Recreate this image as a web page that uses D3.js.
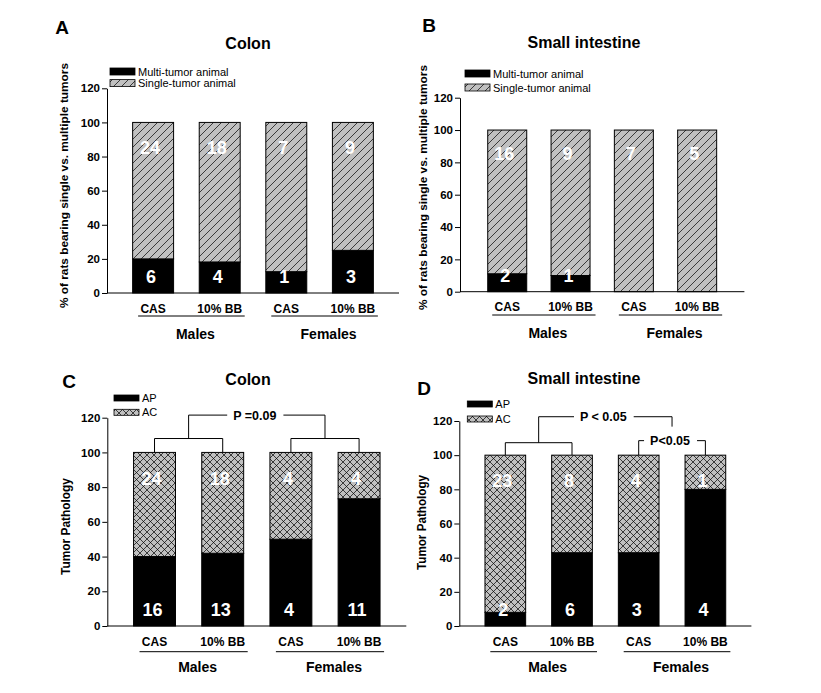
<!DOCTYPE html>
<html><head><meta charset="utf-8">
<script src="https://cdn.jsdelivr.net/npm/d3@7"></script>
<style>body{margin:0;background:#fff} text{font-family:Arial,"Liberation Sans",sans-serif}</style>
</head><body><svg id="chart" width="821" height="693"></svg>
<script>
// ---------- data ----------
const groups = ["CAS","10% BB","CAS","10% BB"];
const sexes = ["Males","Females"];
const yTicks = [0,20,40,60,80,100,120];

const colonMultiPct = [20, 18.2, 12.5, 25];
const colonSinglePct = [80, 81.8, 87.5, 75];
const colonMultiN = ["6","4","1","3"];
const colonSingleN = ["24","18","7","9"];

const smallMultiPct = [11.1, 10, 0, 0];
const smallSinglePct = [88.9, 90, 100, 100];
const smallMultiN = ["2","1","",""];
const smallSingleN = ["16","9","7","5"];

const colonAPPct = [40, 41.9, 50, 73.3];
const colonACPct = [60, 58.1, 50, 26.7];
const colonAPN = ["16","13","4","11"];
const colonACN = ["24","18","4","4"];

const smallAPPct = [8, 42.9, 42.9, 80];
const smallACPct = [92, 57.1, 57.1, 20];
const smallAPN = ["2","6","3","4"];
const smallACN = ["23","8","4","1"];

const legendMulti = ["Multi-tumor animal","Single-tumor animal"];
const legendPath = ["AP","AC"];
const yTitleMulti = "% of rats bearing single vs. multiple tumors";
const yTitlePath = "Tumor Pathology";

// brackets: band index positions (fractional allowed), leg starts, level, label
const colonBrackets = [
  {i1:0, i2:1, lo1:100, lo2:100, level:108, label:null},
  {i1:2, i2:3, lo1:100, lo2:100, level:108, label:null},
  {i1:0.5, i2:2.5, lo1:108, lo2:108, level:121.5, label:"P =0.09"}
];
const smallBrackets = [
  {i1:0, i2:1, lo1:100, lo2:100, level:107.3, label:null},
  {i1:2, i2:3, lo1:100, lo2:100, level:108.5, label:"P<0.05"},
  {i1:0.5, i2:2.5, lo1:107.3, lo2:116.7, level:122.5, label:"P < 0.05"}
];

// ---------- drawing ----------
const svg = d3.select("#chart");
const GREY = "#c0c0c0";
const defs = svg.append("defs");
const hatch = defs.append("pattern").attr("id","hatch").attr("patternUnits","userSpaceOnUse")
  .attr("width",8).attr("height",8);
hatch.append("rect").attr("width",8).attr("height",8).attr("fill",GREY);
hatch.append("path").attr("d","M0,8 L8,0 M-2,2 L2,-2 M6,10 L10,6").attr("stroke","#000").attr("stroke-width",0.7);
const cross = defs.append("pattern").attr("id","cross").attr("patternUnits","userSpaceOnUse")
  .attr("width",7).attr("height",7);
cross.append("rect").attr("width",7).attr("height",7).attr("fill",GREY);
cross.append("path").attr("d","M0,7 L7,0 M-2,2 L2,-2 M5,9 L9,5 M0,0 L7,7 M-2,5 L2,9 M5,-2 L9,2")
  .attr("stroke","#000").attr("stroke-width",0.7);

function drawPanel(p){
  const g = svg.append("g");
  const x = d3.scaleBand().domain(d3.range(groups.length)).range([p.x0,p.x1])
    .paddingInner(p.pi).paddingOuter(p.po);
  const y = d3.scaleLinear().domain([0,120]).range([p.yBot,p.yTop]);
  const bw = x.bandwidth(), step = x.step();
  const cx = i => x(0) + bw/2 + i*step;

  // bars
  groups.forEach((gname,i)=>{
    g.append("rect").attr("x",x(i)).attr("width",bw)
      .attr("y",y(p.low[i])).attr("height",y(0)-y(p.low[i]))
      .attr("fill","#000").attr("stroke","#000").attr("stroke-width",1);
    g.append("rect").attr("x",x(i)).attr("width",bw)
      .attr("y",y(p.low[i]+p.high[i])).attr("height",y(p.low[i])-y(p.low[i]+p.high[i]))
      .attr("fill",`url(#${p.pattern})`).attr("stroke","#000").attr("stroke-width",1);
    g.append("text").attr("x",cx(i)-3).attr("y",y(81.5)).attr("text-anchor","middle")
      .attr("fill","#fff").attr("font-weight","bold").attr("font-size",18).text(p.highN[i]);
    g.append("text").attr("x",cx(i)-2).attr("y",y(6)).attr("text-anchor","middle")
      .attr("fill","#fff").attr("font-weight","bold").attr("font-size",18).text(p.lowN[i]);
  });

  // axes
  const ya = d3.axisLeft(y).tickValues(yTicks).tickSize(5).tickSizeOuter(0).tickPadding(2);
  const yg = g.append("g").attr("transform",`translate(${p.x0},0)`).call(ya);
  yg.select(".domain").attr("stroke","#000");
  yg.selectAll("text").attr("font-weight","bold").attr("font-size",11.5)
    .attr("font-family","Arial,'Liberation Sans',sans-serif").attr("fill","#000");
  g.append("line").attr("x1",p.x0).attr("x2",p.x1).attr("y1",p.yBot).attr("y2",p.yBot)
    .attr("stroke","#000");

  // category labels
  groups.forEach((gname,i)=>{
    g.append("text").attr("x",cx(i)).attr("y",p.yBot+19.5).attr("text-anchor","middle")
      .attr("font-weight","bold").attr("font-size",12).text(gname);
  });
  sexes.forEach((s,k)=>{
    const c1 = cx(2*k), c2 = cx(2*k+1);
    g.append("line").attr("x1",c1-15).attr("x2",c2+25)
      .attr("y1",p.yBot+p.ul).attr("y2",p.yBot+p.ul).attr("stroke","#000");
    g.append("text").attr("x",(c1+c2)/2+9).attr("y",p.yBot+46).attr("text-anchor","middle")
      .attr("font-weight","bold").attr("font-size",14).text(s);
  });

  // title, letter, y title
  g.append("text").attr("x",p.tx).attr("y",p.ty).attr("text-anchor","middle")
    .attr("font-weight","bold").attr("font-size",16).text(p.title);
  g.append("text").attr("x",p.lx).attr("y",p.ly).attr("text-anchor","middle")
    .attr("font-weight","bold").attr("font-size",19).text(p.letter);
  const yt = g.append("text").attr("transform",`translate(${p.ytx},${p.yty}) rotate(-90)`)
    .attr("text-anchor","middle").attr("font-weight","bold").attr("font-size",p.ytSize).text(p.yTitle);
  if(p.ytLen) yt.attr("textLength",p.ytLen).attr("lengthAdjust","spacingAndGlyphs");

  // legend
  p.legend.forEach((t,k)=>{
    const ly = p.legY + k*p.legGap;
    g.append("rect").attr("x",p.legX).attr("y",ly).attr("width",25).attr("height",p.legH)
      .attr("fill", k===0 ? "#000" : `url(#${p.pattern})`).attr("stroke","#000").attr("stroke-width",0.8);
    g.append("text").attr("x",p.legX+28).attr("y",ly+p.legH+0.5).attr("font-size",11).text(t);
  });

  // brackets
  (p.brackets||[]).forEach(b=>{
    const xa = cx(b.i1), xb = cx(b.i2), yl = y(b.level);
    g.append("line").attr("x1",xa).attr("x2",xa).attr("y1",y(b.lo1)).attr("y2",yl).attr("stroke","#000");
    g.append("line").attr("x1",xb).attr("x2",xb).attr("y1",y(b.lo2)).attr("y2",yl).attr("stroke","#000");
    if(b.label){
      const mid = (xa+xb)/2 - 2;
      const t = g.append("text").attr("x",mid).attr("y",yl+4.5).attr("text-anchor","middle")
        .attr("font-weight","bold").attr("font-size",12.5).text(b.label);
      const w = t.node().getComputedTextLength();
      g.append("line").attr("x1",xa).attr("x2",mid-w/2-6).attr("y1",yl).attr("y2",yl).attr("stroke","#000");
      g.append("line").attr("x1",mid+w/2+7).attr("x2",xb).attr("y1",yl).attr("y2",yl).attr("stroke","#000");
    } else {
      g.append("line").attr("x1",xa).attr("x2",xb).attr("y1",yl).attr("y2",yl).attr("stroke","#000");
    }
  });
}

drawPanel({x0:107, x1:399, pi:0.385, po:0.385, yTop:88.3, yBot:293, ul:23,
  low:colonMultiPct, high:colonSinglePct, lowN:colonMultiN, highN:colonSingleN, pattern:"hatch",
  title:"Colon", tx:248, ty:49, letter:"A", lx:62, ly:34,
  yTitle:yTitleMulti, ytx:68, yty:185.5, ytSize:11.5, ytLen:245,
  legend:legendMulti, legX:110, legY:68, legGap:11.6, legH:7});
drawPanel({x0:460, x1:744.4, pi:0.384, po:0.438, yTop:97.7, yBot:291.7, ul:23.3,
  low:smallMultiPct, high:smallSinglePct, lowN:smallMultiN, highN:smallSingleN, pattern:"hatch",
  title:"Small intestine", tx:584, ty:48.3, letter:"B", lx:429, ly:32,
  yTitle:yTitleMulti, ytx:427, yty:187.5, ytSize:11.5, ytLen:245,
  legend:legendMulti, legX:465, legY:70, legGap:14, legH:7});
drawPanel({x0:107.3, x1:406.3, pi:0.385, po:0.385, yTop:417.7, yBot:626, ul:25.7,
  low:colonAPPct, high:colonACPct, lowN:colonAPN, highN:colonACN, pattern:"cross",
  title:"Colon", tx:248, ty:385, letter:"C", lx:69, ly:388,
  yTitle:yTitlePath, ytx:70, yty:526.5, ytSize:12.5, ytLen:97,
  legend:legendPath, legX:114, legY:395, legGap:14.3, legH:6, brackets:colonBrackets});
drawPanel({x0:459.3, x1:751.4, pi:0.39, po:0.385, yTop:421, yBot:626, ul:25.7,
  low:smallAPPct, high:smallACPct, lowN:smallAPN, highN:smallACN, pattern:"cross",
  title:"Small intestine", tx:584, ty:384.3, letter:"D", lx:424, ly:395,
  yTitle:yTitlePath, ytx:426, yty:522.5, ytSize:12.5, ytLen:95,
  legend:legendPath, legX:467.3, legY:401, legGap:15, legH:6, brackets:smallBrackets});
</script></body></html>
